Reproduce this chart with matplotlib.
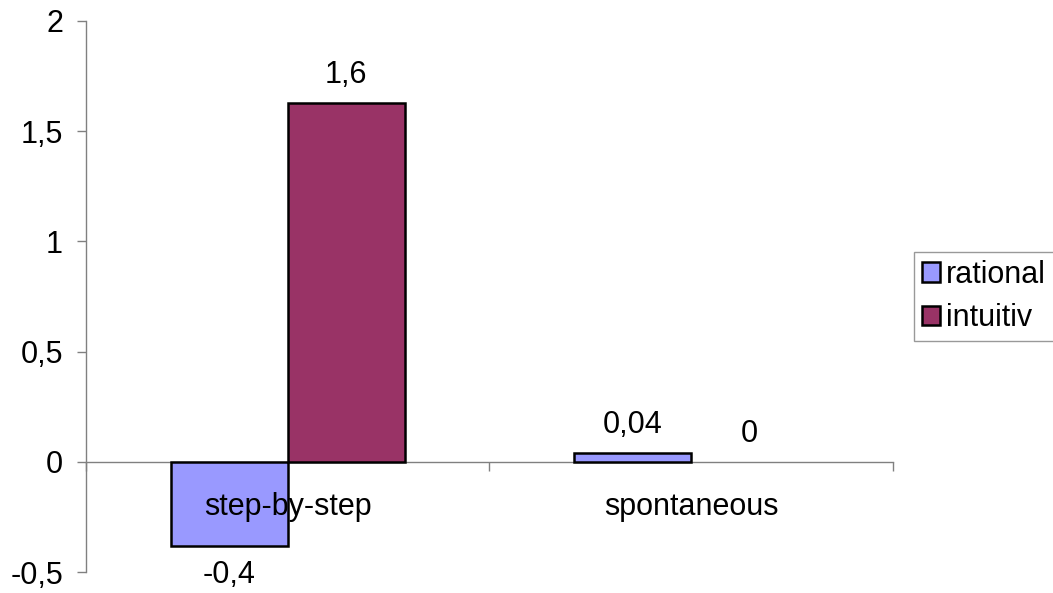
import matplotlib
matplotlib.use("Agg")
import matplotlib.pyplot as plt
import numpy as np

plt.rcParams['font.family'] = ['Liberation Sans', 'DejaVu Sans']

categories = ["step-by-step", "spontaneous"]
rational = [-0.38, 0.04]
intuitiv = [1.63, 0.0]
series_names = ["rational", "intuitiv"]
colors = ["#9999FF", "#993366"]
yticks = [-0.5, 0, 0.5, 1, 1.5, 2]


def fmt(v):
    s = f"{v:.1f}" if abs(v) >= 0.1 else f"{v:.2g}"
    return s.replace(".", ",")


fig = plt.figure(figsize=(10.53, 5.93), dpi=100)
ax = fig.add_axes([0.0817, 0.0354, 0.848 - 0.0817, 0.9292])

x = np.arange(len(categories))
w = 0.29
fs = 22
for i, (vals, name, c) in enumerate(zip([rational, intuitiv], series_names, colors)):
    offs = (i - 0.5) * w
    b = ax.bar(x + offs, vals, width=w, color=c, edgecolor="black", linewidth=1.8,
               label=name, zorder=3)
    # a zero-height bar shows no outline
    for patch, v in zip(b.patches, vals):
        if v == 0:
            patch.set_linewidth(0)
    for xi, v in zip(x + offs, vals):
        dy = 13 if v >= 0 else -14
        ax.annotate(fmt(v), (xi, v), xytext=(0, dy), textcoords="offset pixels",
                    ha="center", va="bottom" if v >= 0 else "top", fontsize=fs)

for xi, cat in zip(x, categories):
    ax.annotate(cat, (xi, 0), xytext=(0, -45), textcoords="offset pixels",
                ha="center", va="center", fontsize=fs, zorder=4)

ax.set_xlim(-0.5, 1.5)
ax.set_ylim(-0.5, 2)
ax.set_yticks(yticks)
ax.set_yticklabels([fmt(t) if t != int(t) else str(int(t)) for t in yticks], fontsize=fs)
ax.set_xticks([-0.5, 0.5, 1.5])
ax.set_xticklabels([])

for s in ["top", "right"]:
    ax.spines[s].set_visible(False)
ax.spines["bottom"].set_position(("data", 0))
for s in ["left", "bottom"]:
    ax.spines[s].set_color("#808080")
    ax.spines[s].set_linewidth(1.0)
ax.tick_params(axis="y", direction="out", length=6.5, width=1.0, color="#808080", pad=10)
ax.tick_params(axis="x", direction="out", length=6.5, width=1.0, color="#808080")

leg = ax.legend(loc="center left", bbox_to_anchor=(1.026, 0.5), fontsize=fs,
                frameon=True, fancybox=False, edgecolor="#808080",
                handlelength=0.6, handleheight=0.6, handletextpad=0.2,
                borderpad=0.25, labelspacing=0.45, borderaxespad=0)
leg.get_frame().set_linewidth(1.0)
for h in leg.legend_handles:
    h.set_linewidth(1.8)

fig.savefig("out.png", dpi=100)
